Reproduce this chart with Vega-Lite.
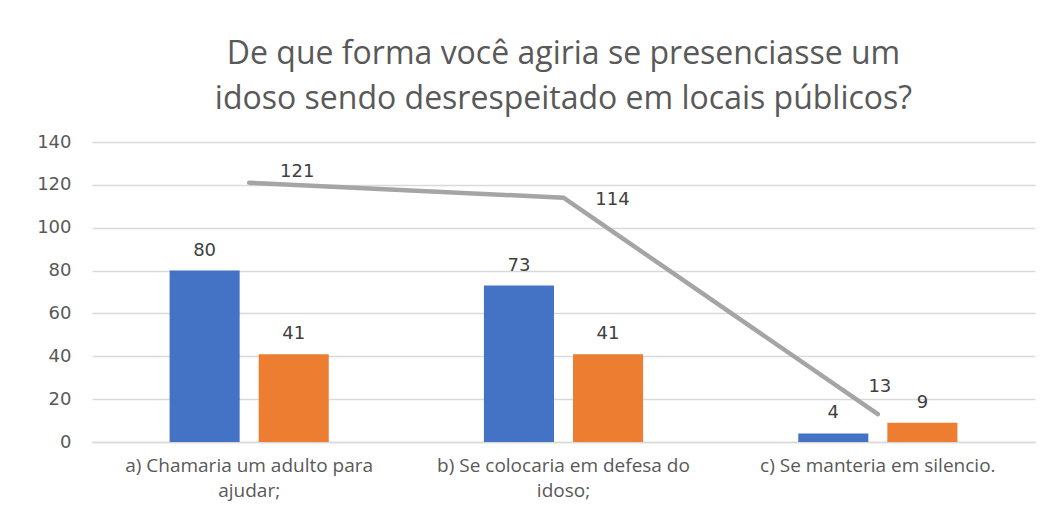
{
  "$schema": "https://vega.github.io/schema/vega-lite/v6.json",
  "autosize": {"type": "none"},
  "width": 943,
  "height": 300,
  "padding": {"left": 92, "top": 142, "right": 17, "bottom": 73},
  "background": "white",
  "title": {
    "text": ["De que forma você agiria se presenciasse um", "idoso sendo desrespeitado em locais públicos?"],
    "font": "Open Sans",
    "fontSize": 32,
    "fontWeight": "normal",
    "color": "#595959",
    "lineHeight": 45,
    "anchor": "middle",
    "offset": 17
  },
  "datasets": {
    "barras": [
      {"categoria": "a) Chamaria um adulto para ajudar;", "serie": "Série1", "valor": 80},
      {"categoria": "a) Chamaria um adulto para ajudar;", "serie": "Série2", "valor": 41},
      {"categoria": "b) Se colocaria em defesa do idoso;", "serie": "Série1", "valor": 73},
      {"categoria": "b) Se colocaria em defesa do idoso;", "serie": "Série2", "valor": 41},
      {"categoria": "c) Se manteria em silencio.", "serie": "Série1", "valor": 4},
      {"categoria": "c) Se manteria em silencio.", "serie": "Série2", "valor": 9}
    ],
    "total": [
      {"categoria": "a) Chamaria um adulto para ajudar;", "total": 121},
      {"categoria": "b) Se colocaria em defesa do idoso;", "total": 114},
      {"categoria": "c) Se manteria em silencio.", "total": 13}
    ]
  },
  "encoding": {
    "x": {
      "field": "categoria",
      "type": "nominal",
      "sort": null,
      "scale": {"paddingInner": 0, "paddingOuter": 0},
      "axis": {
        "title": null,
        "labelAngle": 0,
        "labelFont": "Open Sans",
        "labelFontSize": 19,
        "labelColor": "#595959",
        "labelPadding": 14,
        "labelLineHeight": 25,
        "labelLimit": 0,
        "labelBaseline": "top",
        "ticks": false,
        "domain": true,
        "domainColor": "#D9D9D9",
        "domainWidth": 1.3,
        "labelExpr": "datum.label == 'a) Chamaria um adulto para ajudar;' ? ['a) Chamaria um adulto para', 'ajudar;'] : datum.label == 'b) Se colocaria em defesa do idoso;' ? ['b) Se colocaria em defesa do', 'idoso;'] : datum.label"
      }
    }
  },
  "layer": [
    {
      "data": {"name": "barras"},
      "mark": {"type": "bar"},
      "encoding": {
        "xOffset": {"field": "serie", "type": "nominal", "scale": {"paddingInner": 0.2135, "paddingOuter": 0.871}},
        "y": {
          "field": "valor",
          "type": "quantitative",
          "scale": {"domain": [0, 140]},
          "axis": {
            "title": null,
            "values": [0, 20, 40, 60, 80, 100, 120, 140],
            "labelFont": "DejaVu Sans",
            "labelFontSize": 18,
            "labelColor": "#595959",
            "labelPadding": 21,
            "ticks": false,
            "domain": false,
            "grid": true,
            "gridColor": "#D9D9D9",
            "gridWidth": 1.3
          }
        },
        "color": {
          "field": "serie",
          "type": "nominal",
          "scale": {"domain": ["Série1", "Série2"], "range": ["#4472C4", "#ED7D31"]},
          "legend": null
        }
      }
    },
    {
      "data": {"name": "barras"},
      "mark": {"type": "text", "font": "DejaVu Sans", "fontSize": 18, "color": "#404040", "baseline": "alphabetic", "dy": -15},
      "encoding": {
        "xOffset": {"field": "serie", "type": "nominal", "scale": {"paddingInner": 0.2135, "paddingOuter": 0.871}},
        "y": {"field": "valor", "type": "quantitative"},
        "text": {"field": "valor", "type": "quantitative"}
      }
    },
    {
      "data": {"name": "total"},
      "mark": {"type": "line", "color": "#A5A5A5", "strokeWidth": 4.5, "strokeCap": "round"},
      "encoding": {
        "y": {"field": "total", "type": "quantitative"}
      }
    },
    {
      "data": {"name": "total"},
      "transform": [{"filter": "datum.total == 121"}],
      "mark": {"type": "text", "font": "DejaVu Sans", "fontSize": 18, "color": "#404040", "baseline": "middle", "dx": 48, "dy": -11},
      "encoding": {
        "y": {"field": "total", "type": "quantitative"},
        "text": {"field": "total", "type": "quantitative"}
      }
    },
    {
      "data": {"name": "total"},
      "transform": [{"filter": "datum.total == 114"}],
      "mark": {"type": "text", "font": "DejaVu Sans", "fontSize": 18, "color": "#404040", "baseline": "middle", "dx": 49, "dy": 2},
      "encoding": {
        "y": {"field": "total", "type": "quantitative"},
        "text": {"field": "total", "type": "quantitative"}
      }
    },
    {
      "data": {"name": "total"},
      "transform": [{"filter": "datum.total == 13"}],
      "mark": {"type": "text", "font": "DejaVu Sans", "fontSize": 18, "color": "#404040", "baseline": "middle", "dx": 2, "dy": -27},
      "encoding": {
        "y": {"field": "total", "type": "quantitative"},
        "text": {"field": "total", "type": "quantitative"}
      }
    }
  ],
  "config": {
    "view": {"stroke": null}
  }
}
